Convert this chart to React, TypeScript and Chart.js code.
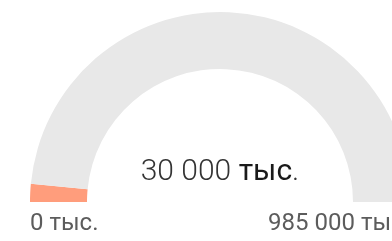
import React, { useEffect, useRef } from "react";
import { Chart, registerables } from "chart.js";

Chart.register(...registerables);

const categories = ["Факт", "Остаток"];
const currentValue = 30000;
const maxValue = 985000;
const seriesValues = [currentValue, maxValue - currentValue];
const minLabel = "0 тыс.";
const maxLabel = "985 000 тыс.";
const centerNumber = "30 000";
const centerUnit = " тыс";
const centerDot = ".";

const gaugeText = {
  id: "gaugeText",
  afterDatasetsDraw(chart: any) {
    const meta = chart.getDatasetMeta(0);
    const arc = meta.data[0];
    if (!arc) return;
    const { x, y, outerRadius } = arc.getProps(["x", "y", "outerRadius"], true);
    const ctx = chart.ctx;
    ctx.save();
    ctx.textBaseline = "alphabetic";
    const light = "300 30px Roboto";
    const unitFont = "400 30px Roboto";
    ctx.font = light;
    const w1 = ctx.measureText(centerNumber).width;
    const w3 = ctx.measureText(centerDot).width;
    ctx.font = unitFont;
    const w2 = ctx.measureText(centerUnit).width;
    const startX = x - (w1 + w2 + w3) / 2;
    const by = y - 22;
    ctx.textAlign = "left";
    ctx.font = light;
    ctx.fillStyle = "#333333";
    ctx.fillText(centerNumber, startX, by);
    ctx.font = unitFont;
    ctx.fillStyle = "#1a1a1a";
    ctx.fillText(centerUnit, startX + w1, by);
    ctx.font = light;
    ctx.fillStyle = "#333333";
    ctx.fillText(centerDot, startX + w1 + w2, by);
    ctx.font = "400 24px Roboto";
    ctx.fillStyle = "#5c5c5c";
    ctx.textAlign = "left";
    ctx.fillText(minLabel, x - outerRadius, y + 28);
    ctx.textAlign = "right";
    ctx.fillText(maxLabel, x + outerRadius, y + 28);
    ctx.restore();
  },
};

export default function App() {
  const ref = useRef<HTMLCanvasElement | null>(null);
  useEffect(() => {
    if (!ref.current) return;
    const chart = new Chart(ref.current, {
      type: "doughnut",
      data: {
        labels: categories,
        datasets: [
          {
            data: seriesValues,
            backgroundColor: ["#ff9d7c", "#e8e8e8"],
            borderWidth: 0,
          },
        ],
      },
      options: {
        animation: false,
        responsive: false,
        maintainAspectRatio: false,
        rotation: -90,
        circumference: 180,
        cutout: "70%",
        layout: { padding: { left: 30, top: 12, right: 50, bottom: 39 } },
        plugins: {
          legend: { display: false },
          tooltip: { enabled: false },
        },
      },
      plugins: [gaugeText],
    });
    return () => chart.destroy();
  }, []);
  return (
    <div
      style={{
        position: "fixed",
        left: 0,
        top: 0,
        width: 392,
        height: 241,
        overflow: "hidden",
        background: "#fff",
      }}
    >
      <canvas ref={ref} width={460} height={241} style={{ display: "block" }} />
    </div>
  );
}
